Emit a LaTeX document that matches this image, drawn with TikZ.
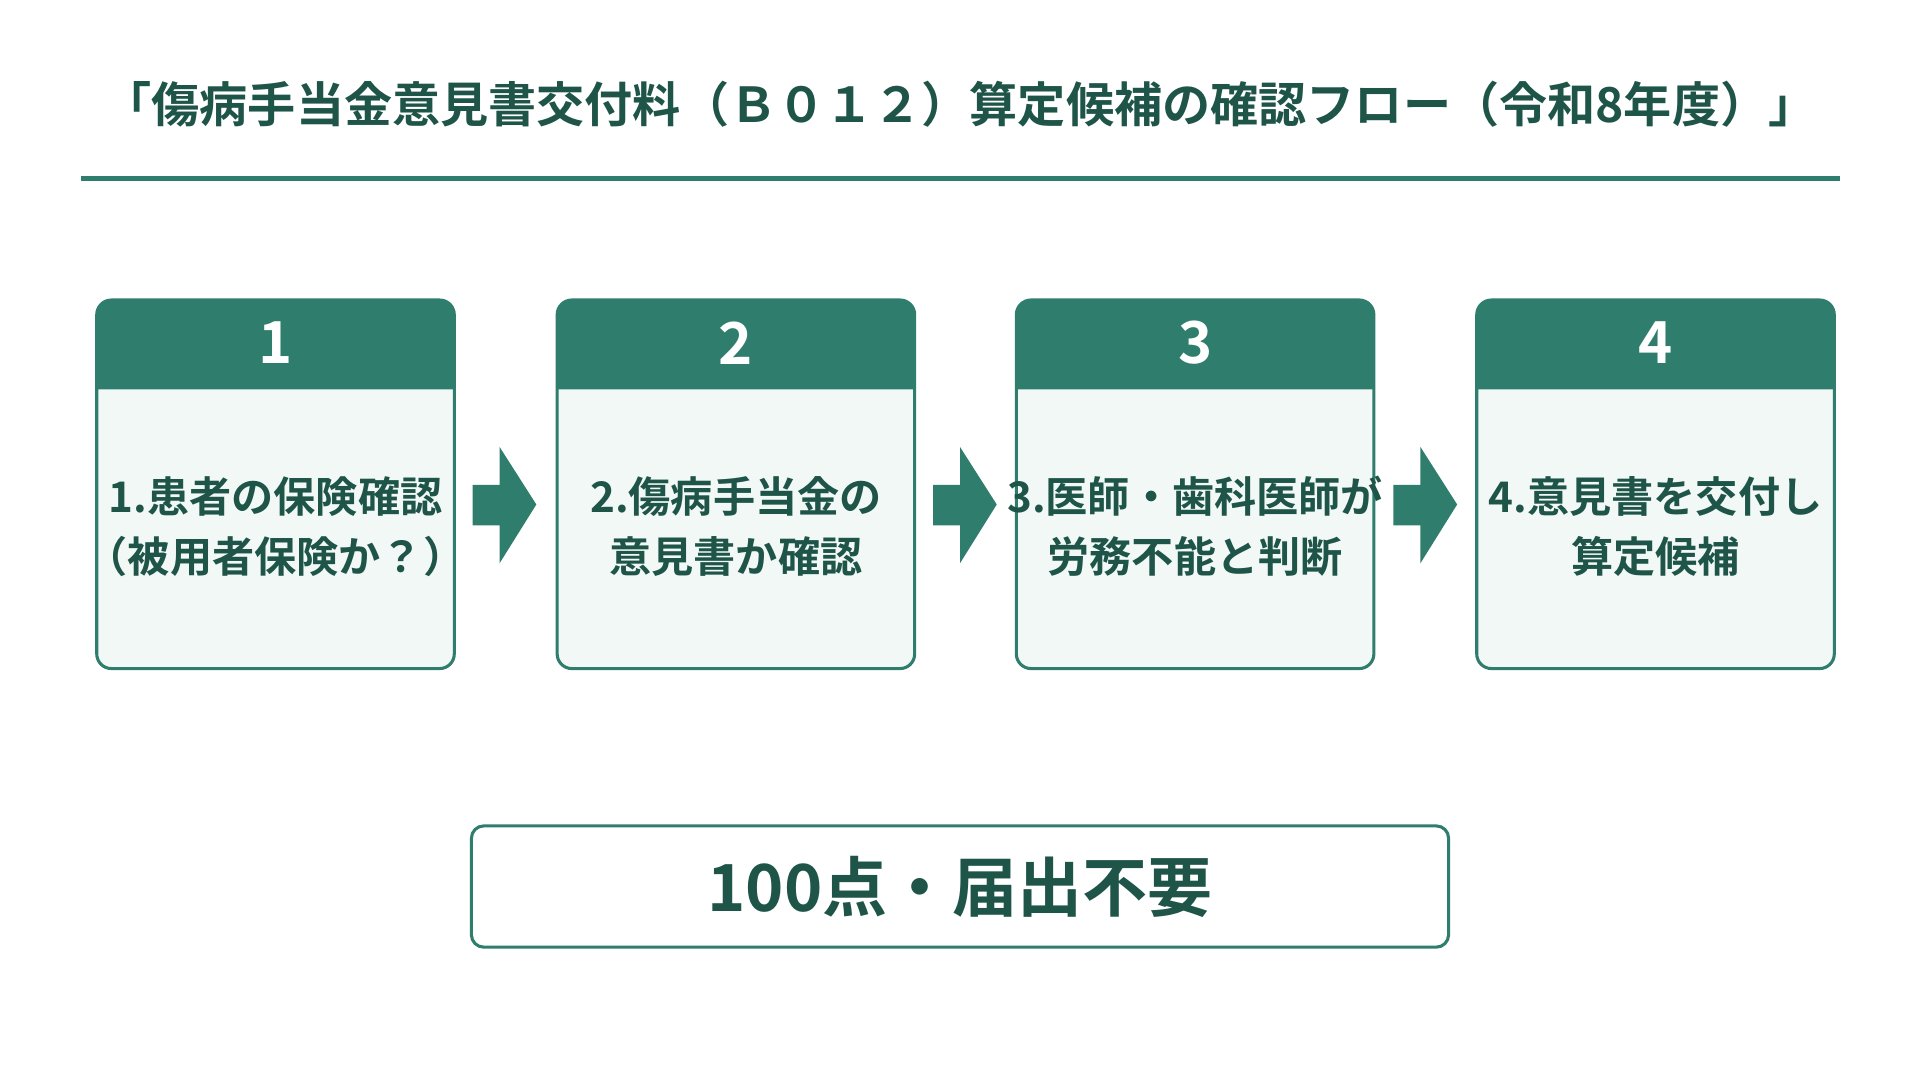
\documentclass[tikz,border=0pt]{standalone}
\usepackage{fontspec}
\setmainfont{Noto Sans CJK JP}[BoldFont={Noto Sans CJK JP Bold}]
\usetikzlibrary{positioning}
\definecolor{stepgreen}{HTML}{2F7D6D}
\definecolor{textgreen}{HTML}{1E5548}
\definecolor{paleteal}{HTML}{F2F8F6}
\tikzset{
  steptext/.style={text=textgreen, font=\bfseries\fontsize{12pt}{17pt}\selectfont, align=center},
  stepnum/.style={text=white, font=\bfseries\fontsize{16.5pt}{18pt}\selectfont},
}
\begin{document}
\begin{tikzpicture}[x=0.1225mm, y=-0.1225mm]
  \useasboundingbox (0,0) rectangle (1568,882);
  \node[text=textgreen, font=\bfseries\fontsize{13.7pt}{16pt}\selectfont] (title) at (784,85)
    {「傷病手当金意見書交付料（Ｂ０１２）算定候補の確認フロー（令和8年度）」};
  \draw[stepgreen, line width=4*0.1225mm] (66,146) coordinate (rulel) -- (1503,146) coordinate (ruler);
  \foreach \i/\x/\txt in {1/79/{1.患者の保険確認\\（被用者保険か？）},
                          2/455/{2.傷病手当金の\\意見書か確認},
                          3/830/{3.医師・歯科医師が\\労務不能と判断},
                          4/1206/{4.意見書を交付し\\算定候補}} {
    \draw[stepgreen, line width=2.5*0.1225mm, fill=paleteal, rounded corners=12*0.1225mm]
      (\x,245) rectangle (\x+292,546);
    \fill[stepgreen] (\x,318) [rounded corners=12*0.1225mm] -- (\x,245) -- (\x+292,245)
      [sharp corners] -- (\x+292,318) -- cycle;
    \node[stepnum] (num\i) at (\x+146,280) {\i};
    \node[steptext] (step\i) at (\x+146,430) {\txt};
  }
  % block arrows between the steps
  \foreach \a in {1,2,3} {
    \pgfmathsetmacro{\ax}{79+376*\a-69}
    \fill[stepgreen] (\ax,396) -- (\ax+22,396) -- (\ax+22,365) -- (\ax+52,412)
      -- (\ax+22,460) -- (\ax+22,429) -- (\ax,429) -- cycle;
  }
  \node[draw=stepgreen, line width=2.5*0.1225mm, rounded corners=10*0.1225mm,
    minimum width=798*0.1225mm, minimum height=99*0.1225mm,
    text=textgreen, font=\bfseries\fontsize{18.5pt}{20pt}\selectfont] (points) at (784,724) {100点・届出不要};
\end{tikzpicture}
\end{document}
